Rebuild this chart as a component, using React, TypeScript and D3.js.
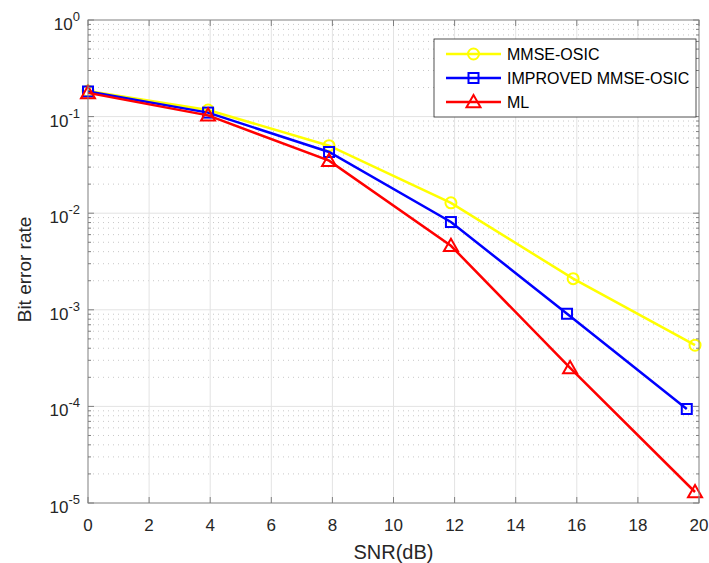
import React from "react";
import * as d3 from "d3";

const xTicks = [0, 2, 4, 6, 8, 10, 12, 14, 16, 18, 20];
const yExps = [0, -1, -2, -3, -4, -5];
const seriesNames = ["MMSE-OSIC", "IMPROVED MMSE-OSIC", "ML"];
const seriesColors = ["#ffff00", "#0000ff", "#ff0000"];
const seriesMarkers = ["circle", "square", "triangle"];
const mmseX = [0, 3.93, 7.89, 11.88, 15.88, 19.87];
const mmseY = [0.184, 0.117, 0.05, 0.0128, 0.0021, 0.00043];
const impX = [0, 3.93, 7.89, 11.88, 15.68, 19.6];
const impY = [0.182, 0.11, 0.043, 0.0081, 0.00091, 0.000094];
const mlX = [0, 3.93, 7.89, 11.88, 15.78, 19.87];
const mlY = [0.176, 0.103, 0.035, 0.0046, 0.00025, 0.000013];

const W = 709, H = 563;
const L = 88, R = 699, T = 20, B = 503;

export default function App() {
  const x = d3.scaleLinear().domain([0, 20]).range([L, R]);
  const y = d3.scaleLog().domain([1e-5, 1]).range([B, T]);
  const xs = [mmseX, impX, mlX];
  const ys = [mmseY, impY, mlY];
  const line = d3.line<[number, number]>().x(d => x(d[0])).y(d => y(d[1]));
  const minor: number[] = [];
  for (let e = -5; e < 0; e++) for (let k = 2; k <= 9; k++) minor.push(k * Math.pow(10, e));
  const axisColor = "#808080";
  const font = "Liberation Sans, Arial, sans-serif";

  const marker = (type: string, cx: number, cy: number, color: string, key: any) => {
    if (type === "circle") return <circle key={key} cx={cx} cy={cy} r={5.5} fill="none" stroke={color} strokeWidth={2} />;
    if (type === "square") return <rect key={key} x={cx - 5} y={cy - 5} width={10} height={10} fill="none" stroke={color} strokeWidth={2} />;
    const s = 7;
    return <path key={key} d={`M${cx},${cy - s}L${cx + s},${cy + s * 0.75}L${cx - s},${cy + s * 0.75}Z`} fill="none" stroke={color} strokeWidth={2} />;
  };

  return (
    <svg width={W} height={H} style={{ position: "absolute", left: 0, top: 0, background: "#fff" }}>
      <rect x={0} y={0} width={W} height={H} fill="#fff" />
      {minor.map((v, i) => (
        <line key={"mg" + i} x1={L} x2={R} y1={y(v)} y2={y(v)} stroke="#c8c8c8" strokeWidth={1} strokeDasharray="1,4" />
      ))}
      {xTicks.slice(1, -1).map((t, i) => (
        <line key={"xg" + i} x1={x(t)} x2={x(t)} y1={T} y2={B} stroke="#e3e3e3" strokeWidth={1} />
      ))}
      {yExps.slice(1, -1).map((e, i) => (
        <line key={"yg" + i} x1={L} x2={R} y1={y(Math.pow(10, e))} y2={y(Math.pow(10, e))} stroke="#e3e3e3" strokeWidth={1} />
      ))}
      {xs.map((sx, si) => {
        const pts: [number, number][] = sx.map((v, i) => [v, ys[si][i]]);
        return (
          <g key={"s" + si}>
            <path d={line(pts) || ""} fill="none" stroke={seriesColors[si]} strokeWidth={2.5} />
            {pts.map((p, i) => marker(seriesMarkers[si], x(p[0]), y(p[1]), seriesColors[si], i))}
          </g>
        );
      })}
      <rect x={L} y={T} width={R - L} height={B - T} fill="none" stroke={axisColor} strokeWidth={1} />
      {xTicks.map((t, i) => (
        <g key={"xt" + i}>
          <line x1={x(t)} x2={x(t)} y1={B} y2={B - 6} stroke={axisColor} />
          <line x1={x(t)} x2={x(t)} y1={T} y2={T + 6} stroke={axisColor} />
          <text x={x(t)} y={B + 28} textAnchor="middle" fontFamily={font} fontSize={17} fill="#262626">{t}</text>
        </g>
      ))}
      {yExps.map((e, i) => (
        <g key={"yt" + i}>
          <line x1={L} x2={L + 6} y1={y(Math.pow(10, e))} y2={y(Math.pow(10, e))} stroke={axisColor} />
          <line x1={R} x2={R - 6} y1={y(Math.pow(10, e))} y2={y(Math.pow(10, e))} stroke={axisColor} />
          <text x={L - 8} y={y(Math.pow(10, e)) + 10} textAnchor="end" fontFamily={font} fontSize={17} fill="#262626">
            10<tspan dy={-9} fontSize={13}>{e}</tspan>
          </text>
        </g>
      ))}
      {minor.map((v, i) => (
        <g key={"mt" + i}>
          <line x1={L} x2={L + 3} y1={y(v)} y2={y(v)} stroke={axisColor} />
          <line x1={R} x2={R - 3} y1={y(v)} y2={y(v)} stroke={axisColor} />
        </g>
      ))}
      <text x={(L + R) / 2} y={559} textAnchor="middle" fontFamily={font} fontSize={20} fill="#262626">SNR(dB)</text>
      <text transform={`translate(31,${(T + B) / 2 + 8}) rotate(-90)`} textAnchor="middle" fontFamily={font} fontSize={19} fill="#262626">Bit error rate</text>
      <rect x={434} y={39} width={262} height={78} fill="#fff" stroke="#262626" strokeWidth={0.8} />
      {seriesNames.map((n, i) => {
        const ly = 54 + i * 24;
        return (
          <g key={"lg" + i}>
            <line x1={446} x2={501} y1={ly} y2={ly} stroke={seriesColors[i]} strokeWidth={2.5} />
            {marker(seriesMarkers[i], 473.5, ly, seriesColors[i], "m")}
            <text x={507} y={ly + 6} fontFamily={font} fontSize={16} fill="#000">{n}</text>
          </g>
        );
      })}
    </svg>
  );
}
